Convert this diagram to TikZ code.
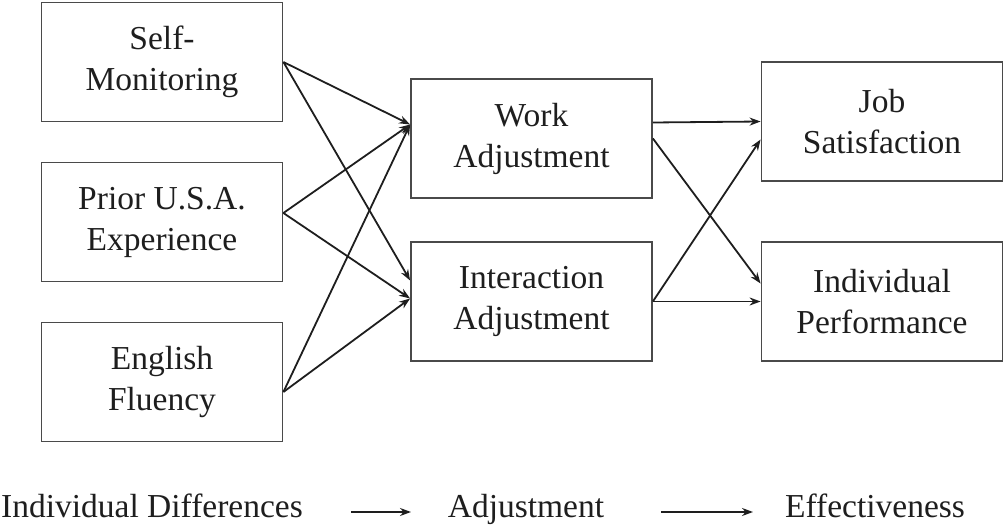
\documentclass[tikz,border=0pt]{standalone}
\usepackage{fontspec}
\setmainfont{Liberation Serif}
\usetikzlibrary{arrows.meta}
\definecolor{boxline}{HTML}{4A4A4A}
\definecolor{ink}{HTML}{1E1E1E}
\tikzset{
  box/.style={draw=boxline, line width=1.8pt, minimum width=241pt, minimum height=119pt,
    inner sep=0pt, align=center, text=ink, font=\fontsize{33.5}{41}\selectfont},
  link/.style={draw=ink, line width=1.8pt, -{Stealth[length=11pt,width=8pt]}},
  lbl/.style={text=ink, font=\fontsize{33.5}{41}\selectfont, inner sep=0pt, anchor=base}
}
\begin{document}
\begin{tikzpicture}[x=1pt,y=-1pt]
\useasboundingbox (0,0) rectangle (1004,529);
\node[box] (sm) at (162,62) {Self-\\Monitoring};
\node[box] (pu) at (162,222) {Prior U.S.A.\\Experience};
\node[box] (ef) at (162,382) {English\\Fluency};
\node[box] (wa) at (531.5,138.5) {Work\\Adjustment};
\node[box] (ia) at (531.5,301.5) {Interaction\\Adjustment};
\node[box] (js) at (882,121.5) {Job\\Satisfaction};
\node[box] (ip) at (882,301.5) {Individual\\Performance};

\draw[link] (sm.east) -- ([yshift=14pt]wa.west);
\draw[link] (sm.east) -- ([yshift=21pt]ia.west);
\draw[link] ([yshift=9pt]pu.east) -- ([yshift=14pt]wa.west);
\draw[link] ([yshift=9pt]pu.east) -- ([yshift=3pt]ia.west);
\draw[link] ([yshift=-10pt]ef.east) -- ([yshift=14pt]wa.west);
\draw[link] ([yshift=-10pt]ef.east) -- ([yshift=3pt]ia.west);

\draw[link] ([yshift=16pt]wa.east) -- (js.west);
\draw[link] (wa.east) -- ([yshift=18pt]ip.west);
\draw[link] (ia.east) -- ([yshift=-18pt]js.west);
\draw[link] (ia.east) -- (ip.west);

\node[lbl] (l1) at (152,517) {Individual Differences};
\node[lbl] (l2) at (526,517) {Adjustment};
\node[lbl] (l3) at (875,517) {Effectiveness};
\coordinate (a1s) at (351,512);
\coordinate (a1e) at (411,512);
\coordinate (a2s) at (661,512);
\coordinate (a2e) at (753,512);
\draw[link] (a1s) -- (a1e);
\draw[link] (a2s) -- (a2e);
\end{tikzpicture}
\end{document}
